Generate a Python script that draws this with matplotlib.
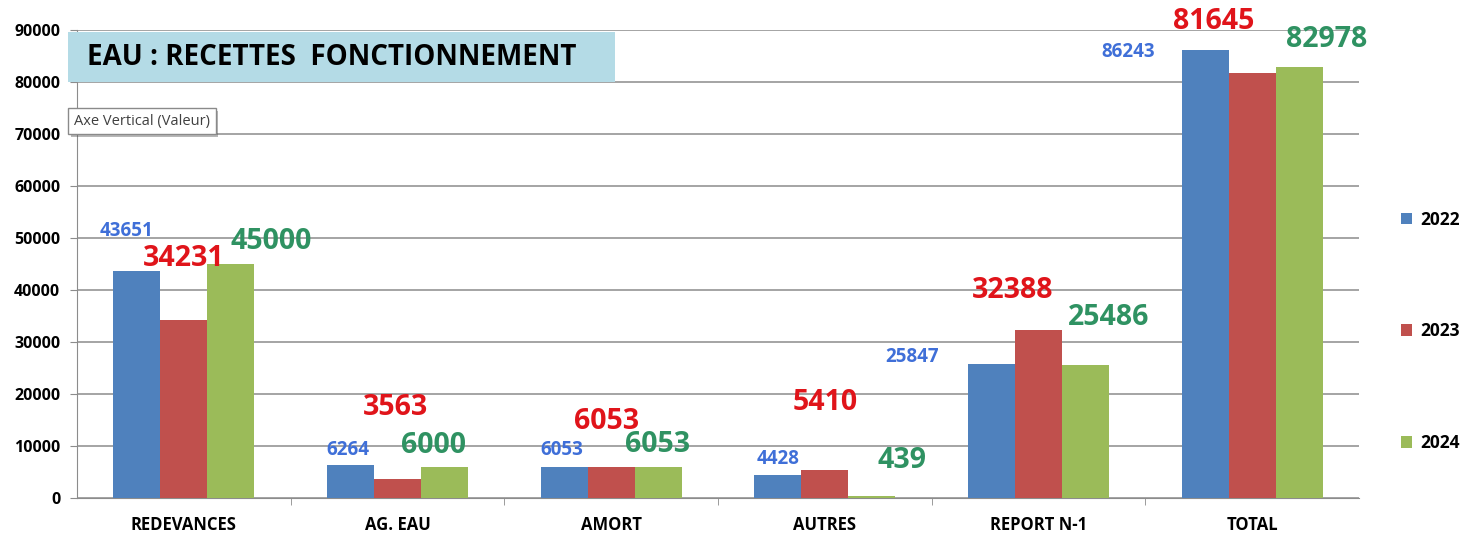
import numpy as np
import matplotlib.pyplot as plt
from matplotlib.patches import Rectangle
import matplotlib.patheffects as pe

plt.rcParams['font.family'] = ['Open Sans', 'DejaVu Sans']

categories = ["REDEVANCES", "AG. EAU", "AMORT", "AUTRES", "REPORT N-1", "TOTAL"]
years = ["2022", "2023", "2024"]
v2022 = [43651, 6264, 6053, 4428, 25847, 86243]
v2023 = [34231, 3563, 6053, 5410, 32388, 81645]
v2024 = [45000, 6000, 6053, 439, 25486, 82978]

bar_colors = ["#4f81bd", "#c0504d", "#9bbb59"]
label_colors = ["#3f6fd8", "#e0141a", "#2f9262"]
label_sizes = [13.5, 20.5, 20.5]

# manual label placement (x offset in category units, y height) as in the original
label_dx = [
    [-0.27, -0.23, -0.23, -0.22, -0.59, -0.58],
    [0.0, -0.01, -0.02, 0.0, -0.12, -0.18],
    [0.41, 0.17, 0.215, 0.36, 0.33, 0.35],
]
label_y = [
    [51350, 9230, 9230, 7500, 27120, 85770],
    [46150, 17310, 14620, 18460, 40000, 91540],
    [49420, 10190, 10380, 7120, 34620, 88080],
]

W, H = 1476, 537
fig = plt.figure(figsize=(W / 100, H / 100), dpi=100)
ax = fig.add_axes([77 / W, 1 - 498 / H, (1359 - 77) / W, (498 - 30) / H])

x = np.arange(len(categories))
bw = 0.22
series = [v2022, v2023, v2024]
for i, vals in enumerate(series):
    ax.bar(x + (i - 1) * bw, vals, bw, color=bar_colors[i], label=years[i], zorder=3)
    for j, v in enumerate(vals):
        ax.text(x[j] + label_dx[i][j], label_y[i][j], str(v), color=label_colors[i],
                fontsize=label_sizes[i], fontweight='bold', ha='center', va='center',
                clip_on=False, zorder=5)

ax.set_xlim(-0.5, len(categories) - 0.5)
ax.set_ylim(0, 90000)
ax.set_yticks(np.arange(0, 90001, 10000))
ax.yaxis.grid(True, color='#8c8c8c', linewidth=1.1, zorder=0)
ax.set_axisbelow(True)
for s in ['top', 'right']:
    ax.spines[s].set_visible(False)
ax.spines['left'].set_color('#8c8c8c')
ax.spines['bottom'].set_color('#8c8c8c')
ax.tick_params(axis='y', length=5, color='#8c8c8c', labelsize=11.5, pad=7)
ax.set_xticks(x)
ax.set_xticklabels(categories)
ax.set_xticks(np.arange(0.5, len(categories) - 0.5, 1), minor=True)
ax.tick_params(axis='x', which='major', length=0, labelsize=12, pad=13)
ax.tick_params(axis='x', which='minor', length=5, color='#8c8c8c')
for lab in ax.get_xticklabels() + ax.get_yticklabels():
    lab.set_fontweight('bold')

leg = ax.legend(loc='upper left', bbox_to_anchor=(1385 / W, 1 - 195 / H),
                bbox_transform=fig.transFigure, frameon=False, fontsize=12.5,
                handlelength=0.65, handleheight=0.65, handletextpad=0.5,
                labelspacing=5.4)
for t in leg.get_texts():
    t.set_fontweight('bold')

# title box
fig.patches.append(Rectangle((68 / W, 1 - 82 / H), (615 - 68) / W, 50 / H,
                             transform=fig.transFigure, facecolor='#b4dbe6',
                             edgecolor='none', zorder=4))
fig.text(87 / W, 1 - 57 / H, "EAU : RECETTES  FONCTIONNEMENT", fontsize=20,
         fontweight='bold', va='center', ha='left', zorder=5)

# tooltip
tip = fig.text(74 / W, 1 - 121 / H, "Axe Vertical (Valeur)", fontsize=10.5,
               color='#404040', va='center', ha='left', zorder=6,
               bbox=dict(facecolor='white', edgecolor='#8a8a8a', pad=4, linewidth=1))
tip.get_bbox_patch().set_path_effects([pe.SimplePatchShadow(offset=(2, -2), alpha=0.4), pe.Normal()])

fig.savefig("out.png", dpi=100)
